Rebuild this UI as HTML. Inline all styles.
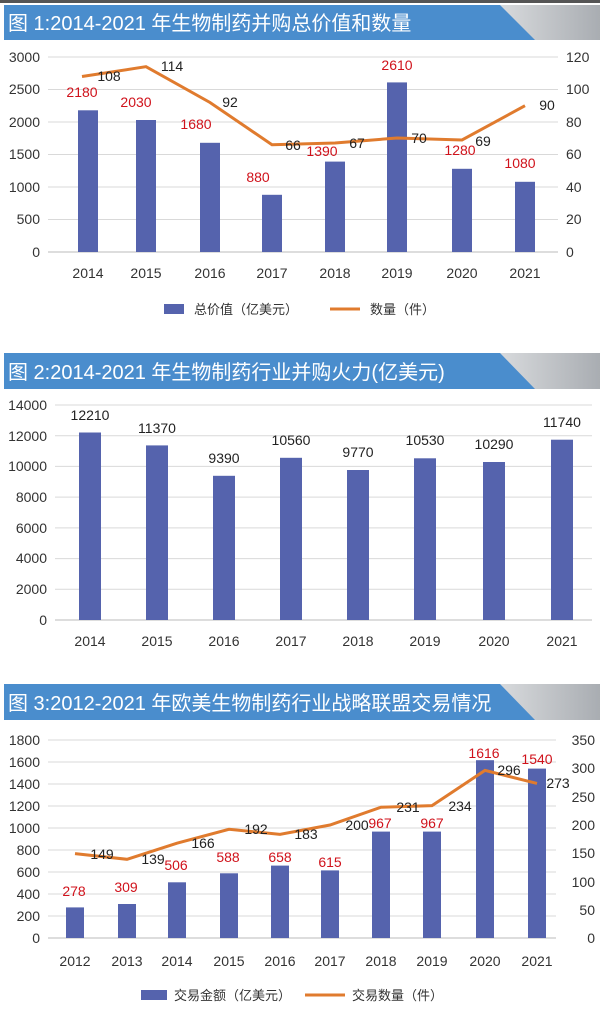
<!DOCTYPE html>
<html><head><meta charset="utf-8"><style>
body{margin:0;background:#fff;}
svg{display:block;font-family:"Liberation Sans","Noto Sans CJK SC",sans-serif;}
</style></head><body>
<svg width="600" height="1018" viewBox="0 0 600 1018" xmlns="http://www.w3.org/2000/svg">
<defs>
<linearGradient id="g" x1="0" x2="1"><stop offset="0" stop-color="#f4f5f6"/><stop offset="1" stop-color="#a9adb2"/></linearGradient>
</defs>
<rect width="600" height="1018" fill="#fff"/>
<rect x="0" y="0" width="600" height="3" fill="#555"/>
<g>
<rect x="440" y="5" width="160" height="35" fill="url(#g)"/>
<polygon points="4,5 500,5 535,40 4,40" fill="#4a8dcd"/>
<text x="8" y="30" font-size="20" fill="#fff">图 1:2014-2021 年生物制药并购总价值和数量</text>
</g>
<g>
<rect x="440" y="353" width="160" height="36" fill="url(#g)"/>
<polygon points="4,353 500,353 535,389 4,389" fill="#4a8dcd"/>
<text x="8" y="379" font-size="20" fill="#fff">图 2:2014-2021 年生物制药行业并购火力(亿美元)</text>
</g>
<g>
<rect x="440" y="684" width="160" height="36" fill="url(#g)"/>
<polygon points="4,684 500,684 535,720 4,720" fill="#4a8dcd"/>
<text x="8" y="710" font-size="20" fill="#fff">图 3:2012-2021 年欧美生物制药行业战略联盟交易情况</text>
</g>

<g stroke="#d9d9d9" stroke-width="1">
<line x1="48" x2="558" y1="57" y2="57"/><line x1="48" x2="558" y1="89.5" y2="89.5"/><line x1="48" x2="558" y1="122" y2="122"/><line x1="48" x2="558" y1="154.5" y2="154.5"/><line x1="48" x2="558" y1="187" y2="187"/><line x1="48" x2="558" y1="219.5" y2="219.5"/>
</g>
<line x1="48" x2="558" y1="252" y2="252" stroke="#bbb"/>
<g font-size="14" fill="#333" text-anchor="end">
<text x="40" y="62">3000</text><text x="40" y="94">2500</text><text x="40" y="127">2000</text><text x="40" y="159">1500</text><text x="40" y="192">1000</text><text x="40" y="224">500</text><text x="40" y="257">0</text>
</g>
<g font-size="14" fill="#333">
<text x="566" y="62">120</text><text x="566" y="94">100</text><text x="566" y="127">80</text><text x="566" y="159">60</text><text x="566" y="192">40</text><text x="566" y="224">20</text><text x="566" y="257">0</text>
</g>
<g fill="#5563ad">
<rect x="78" y="110.3" width="20" height="141.7"/><rect x="136" y="120" width="20" height="132"/><rect x="200" y="142.8" width="20" height="109.2"/><rect x="262" y="194.8" width="20" height="57.2"/><rect x="325" y="161.6" width="20" height="90.4"/><rect x="387" y="82.4" width="20" height="169.6"/><rect x="452" y="168.8" width="20" height="83.2"/><rect x="515" y="181.8" width="20" height="70.2"/>
</g>
<polyline fill="none" stroke="#e07b2e" stroke-width="3" points="82,76.5 146,66.7 210,102.5 272,144.7 335,143 397,138 462,140 525,105.7"/>
<g font-size="14" fill="#d0121b" text-anchor="middle">
<text x="82" y="97">2180</text><text x="136" y="107">2030</text><text x="196" y="129">1680</text><text x="258" y="182">880</text><text x="322" y="156">1390</text><text x="397" y="70">2610</text><text x="460" y="155">1280</text><text x="520" y="168">1080</text>
</g>
<g font-size="14" fill="#222" text-anchor="middle">
<text x="109" y="81">108</text><text x="172" y="71">114</text><text x="230" y="107">92</text><text x="293" y="150">66</text><text x="357" y="148">67</text><text x="419" y="143">70</text><text x="483" y="146">69</text><text x="547" y="110">90</text>
</g>
<g font-size="14" fill="#333" text-anchor="middle">
<text x="88" y="278">2014</text><text x="146" y="278">2015</text><text x="210" y="278">2016</text><text x="272" y="278">2017</text><text x="335" y="278">2018</text><text x="397" y="278">2019</text><text x="462" y="278">2020</text><text x="525" y="278">2021</text>
</g>
<rect x="164" y="304" width="20" height="10" fill="#5563ad"/>
<text x="194" y="314" font-size="13" fill="#333">总价值（亿美元）</text>
<line x1="330" x2="360" y1="309" y2="309" stroke="#e07b2e" stroke-width="3"/>
<text x="370" y="314" font-size="13" fill="#333">数量（件）</text>

<g stroke="#d9d9d9">
<line x1="55" x2="592" y1="405" y2="405"/><line x1="55" x2="592" y1="435.7" y2="435.7"/><line x1="55" x2="592" y1="466.4" y2="466.4"/><line x1="55" x2="592" y1="497.1" y2="497.1"/><line x1="55" x2="592" y1="527.9" y2="527.9"/><line x1="55" x2="592" y1="558.6" y2="558.6"/><line x1="55" x2="592" y1="589.3" y2="589.3"/>
</g>
<line x1="55" x2="592" y1="620" y2="620" stroke="#bbb"/>
<g font-size="14" fill="#333" text-anchor="end">
<text x="47" y="410">14000</text><text x="47" y="441">12000</text><text x="47" y="471">10000</text><text x="47" y="502">8000</text><text x="47" y="533">6000</text><text x="47" y="563">4000</text><text x="47" y="594">2000</text><text x="47" y="625">0</text>
</g>
<g fill="#5563ad">
<rect x="79" y="432.5" width="22" height="187.5"/><rect x="146" y="445.4" width="22" height="174.6"/><rect x="213" y="475.8" width="22" height="144.2"/><rect x="280" y="457.8" width="22" height="162.2"/><rect x="347" y="470" width="22" height="150"/><rect x="414" y="458.3" width="22" height="161.7"/><rect x="483" y="462" width="22" height="158"/><rect x="551" y="439.7" width="22" height="180.3"/>
</g>
<g font-size="14" fill="#222" text-anchor="middle">
<text x="90" y="420">12210</text><text x="157" y="433">11370</text><text x="224" y="463">9390</text><text x="291" y="445">10560</text><text x="358" y="457">9770</text><text x="425" y="445">10530</text><text x="494" y="449">10290</text><text x="562" y="427">11740</text>
</g>
<g font-size="14" fill="#333" text-anchor="middle">
<text x="90" y="646">2014</text><text x="157" y="646">2015</text><text x="224" y="646">2016</text><text x="291" y="646">2017</text><text x="358" y="646">2018</text><text x="425" y="646">2019</text><text x="494" y="646">2020</text><text x="562" y="646">2021</text>
</g>

<g stroke="#d9d9d9">
<line x1="48" x2="556" y1="740" y2="740"/><line x1="48" x2="556" y1="762" y2="762"/><line x1="48" x2="556" y1="784" y2="784"/><line x1="48" x2="556" y1="806" y2="806"/><line x1="48" x2="556" y1="828" y2="828"/><line x1="48" x2="556" y1="850" y2="850"/><line x1="48" x2="556" y1="872" y2="872"/><line x1="48" x2="556" y1="894" y2="894"/><line x1="48" x2="556" y1="916" y2="916"/>
</g>
<line x1="48" x2="556" y1="938" y2="938" stroke="#bbb"/>
<g font-size="14" fill="#333" text-anchor="end">
<text x="40" y="745">1800</text><text x="40" y="767">1600</text><text x="40" y="789">1400</text><text x="40" y="811">1200</text><text x="40" y="833">1000</text><text x="40" y="855">800</text><text x="40" y="877">600</text><text x="40" y="899">400</text><text x="40" y="921">200</text><text x="40" y="943">0</text>
</g>
<g font-size="14" fill="#333" text-anchor="end">
<text x="595" y="745">350</text><text x="595" y="773">300</text><text x="595" y="802">250</text><text x="595" y="830">200</text><text x="595" y="858">150</text><text x="595" y="887">100</text><text x="595" y="915">50</text><text x="595" y="943">0</text>
</g>
<g fill="#5563ad">
<rect x="66" y="907.4" width="18" height="30.6"/><rect x="118" y="904" width="18" height="34"/><rect x="168" y="882.3" width="18" height="55.7"/><rect x="220" y="873.3" width="18" height="64.7"/><rect x="271" y="865.6" width="18" height="72.4"/><rect x="321" y="870.4" width="18" height="67.6"/><rect x="372" y="831.6" width="18" height="106.4"/><rect x="423" y="831.6" width="18" height="106.4"/><rect x="476" y="760.2" width="18" height="177.8"/><rect x="528" y="768.6" width="18" height="169.4"/>
</g>
<polyline fill="none" stroke="#e07b2e" stroke-width="3" points="75,853.6 127,859.3 177,843.2 229,829.3 280,834.4 330,825 381,807.2 432,805.6 485,770.4 537,783.4"/>
<g font-size="14" fill="#d0121b" text-anchor="middle">
<text x="74" y="896">278</text><text x="126" y="892">309</text><text x="176" y="870">506</text><text x="228" y="862">588</text><text x="280" y="862">658</text><text x="330" y="867">615</text><text x="380" y="828">967</text><text x="432" y="828">967</text><text x="484" y="758">1616</text><text x="537" y="764">1540</text>
</g>
<g font-size="14" fill="#222" text-anchor="middle">
<text x="102" y="859">149</text><text x="153" y="864">139</text><text x="203" y="848">166</text><text x="256" y="834">192</text><text x="306" y="839">183</text><text x="357" y="830">200</text><text x="408" y="812">231</text><text x="460" y="811">234</text><text x="509" y="775">296</text><text x="558" y="788">273</text>
</g>
<g font-size="14" fill="#333" text-anchor="middle">
<text x="75" y="966">2012</text><text x="127" y="966">2013</text><text x="177" y="966">2014</text><text x="229" y="966">2015</text><text x="280" y="966">2016</text><text x="330" y="966">2017</text><text x="381" y="966">2018</text><text x="432" y="966">2019</text><text x="485" y="966">2020</text><text x="537" y="966">2021</text>
</g>
<rect x="141" y="990" width="26" height="10" fill="#5563ad"/>
<text x="174" y="1000" font-size="13" fill="#333">交易金额（亿美元）</text>
<line x1="305" x2="345" y1="995" y2="995" stroke="#e07b2e" stroke-width="3"/>
<text x="352" y="1000" font-size="13" fill="#333">交易数量（件）</text>
</svg>
</body></html>
